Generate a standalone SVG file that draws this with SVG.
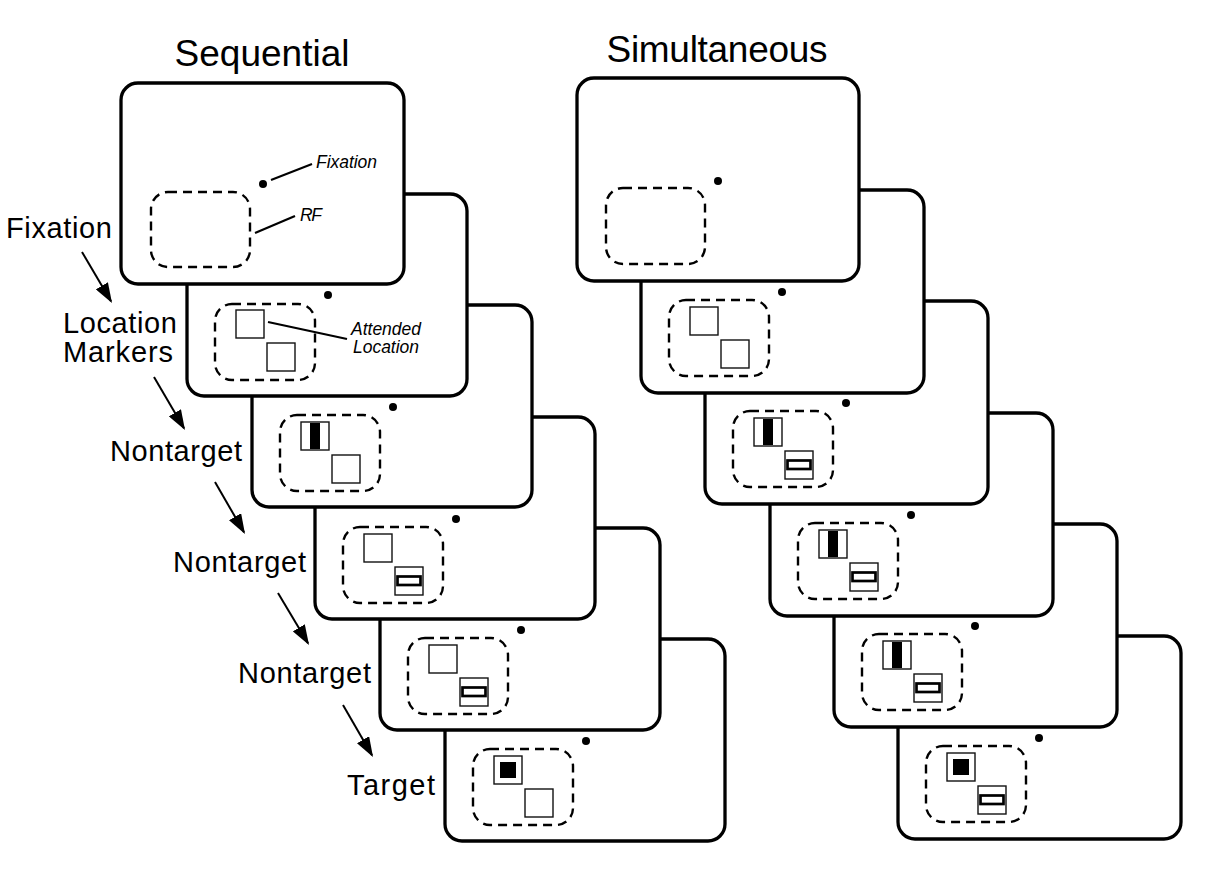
<svg xmlns="http://www.w3.org/2000/svg" width="1210" height="877" viewBox="0 0 1210 877">
<style>
.panel{fill:#fff;stroke:#000;stroke-width:3.3}
.rf{fill:none;stroke:#000;stroke-width:2.4;stroke-dasharray:9 6}
.sq{fill:#fff;stroke:#111;stroke-width:1.4}
.dot{fill:#000}
.vbar{fill:#000}
.hbar{fill:#fff;stroke:#000;stroke-width:2.7}
.tgt{fill:#000}
.lead{stroke:#000;stroke-width:2.2;fill:none}
.arrow{stroke:#000;stroke-width:2;fill:none;marker-end:url(#ah)}
.title{font-family:"Liberation Sans",Arial,sans-serif;font-size:37px;fill:#000}
.lab{font-family:"Liberation Sans",Arial,sans-serif;font-size:29px;fill:#000}
.ann{font-family:"Liberation Sans",Arial,sans-serif;font-size:17.5px;font-style:italic;fill:#000}
</style>
<defs>
<marker id="ah" markerUnits="userSpaceOnUse" viewBox="0 0 20 14" refX="18" refY="7" markerWidth="20" markerHeight="14" orient="auto">
<path d="M0,0 L20,7 L0,14 z" fill="#000"/>
</marker>
</defs>
<rect width="1210" height="877" fill="#fff"/>

<text class="title" x="262" y="66" text-anchor="middle" textLength="175">Sequential</text>
<text class="title" x="717" y="62" text-anchor="middle" textLength="221">Simultaneous</text>

<!-- Sequential panels (drawn back to front) -->
<g id="seq6" transform="translate(445,639)">
<rect class="panel" x="0" y="0" width="280" height="202" rx="17"/>
<circle class="dot" cx="141" cy="102" r="4"/>
<rect class="rf" x="28" y="110" width="100" height="76" rx="17"/>
<rect class="sq" x="49" y="117" width="28" height="28"/>
<rect class="tgt" x="55" y="123" width="16" height="16"/>
<rect class="sq" x="80" y="150" width="28" height="28"/>
</g>
<g id="seq5" transform="translate(380,528)">
<rect class="panel" x="0" y="0" width="280" height="202" rx="17"/>
<circle class="dot" cx="141" cy="102" r="4"/>
<rect class="rf" x="28" y="110" width="100" height="76" rx="17"/>
<rect class="sq" x="49" y="117" width="28" height="28"/>
<rect class="sq" x="80" y="150" width="28" height="28"/>
<rect class="hbar" x="82.5" y="159.5" width="23" height="8.5"/>
</g>
<g id="seq4" transform="translate(315,417)">
<rect class="panel" x="0" y="0" width="280" height="202" rx="17"/>
<circle class="dot" cx="141" cy="102" r="4"/>
<rect class="rf" x="28" y="110" width="100" height="76" rx="17"/>
<rect class="sq" x="49" y="117" width="28" height="28"/>
<rect class="sq" x="80" y="150" width="28" height="28"/>
<rect class="hbar" x="82.5" y="159.5" width="23" height="8.5"/>
</g>
<g id="seq3" transform="translate(252,305)">
<rect class="panel" x="0" y="0" width="280" height="202" rx="17"/>
<circle class="dot" cx="141" cy="102" r="4"/>
<rect class="rf" x="28" y="110" width="100" height="76" rx="17"/>
<rect class="sq" x="49" y="117" width="28" height="28"/>
<rect class="vbar" x="58" y="118" width="10" height="26"/>
<rect class="sq" x="80" y="150" width="28" height="28"/>
</g>
<g id="seq2" transform="translate(187,194)">
<rect class="panel" x="0" y="0" width="280" height="202" rx="17"/>
<circle class="dot" cx="141" cy="101" r="4"/>
<rect class="rf" x="28" y="110" width="100" height="76" rx="17"/>
<rect class="sq" x="49" y="116" width="28" height="28"/>
<rect class="sq" x="80" y="149" width="28" height="28"/>
<line class="lead" x1="81" y1="128" x2="160" y2="145"/>
<text class="ann" x="199" y="141" text-anchor="middle" textLength="70">Attended</text>
<text class="ann" x="199" y="159" text-anchor="middle" textLength="66">Location</text>
</g>
<g id="seq1" transform="translate(121,83)">
<rect class="panel" x="0" y="0" width="283" height="201" rx="17"/>
<circle class="dot" cx="142" cy="101" r="4"/>
<rect class="rf" x="30" y="109" width="99" height="75" rx="17"/>
<line class="lead" x1="150" y1="97" x2="191" y2="81"/>
<text class="ann" x="195" y="85" textLength="61">Fixation</text>
<line class="lead" x1="134" y1="150" x2="174" y2="133"/>
<text class="ann" x="179" y="138" textLength="22">RF</text>
</g>

<!-- Simultaneous panels -->
<g id="sim6" transform="translate(898,636)">
<rect class="panel" x="0" y="0" width="283" height="203" rx="17"/>
<circle class="dot" cx="141" cy="102" r="4"/>
<rect class="rf" x="28" y="110" width="100" height="76" rx="17"/>
<rect class="sq" x="49" y="117" width="28" height="28"/>
<rect class="tgt" x="55" y="123" width="16" height="16"/>
<rect class="sq" x="80" y="150" width="28" height="28"/>
<rect class="hbar" x="82.5" y="159.5" width="23" height="8.5"/>
</g>
<g id="sim5" transform="translate(834,524)">
<rect class="panel" x="0" y="0" width="283" height="203" rx="17"/>
<circle class="dot" cx="141" cy="102" r="4"/>
<rect class="rf" x="28" y="110" width="100" height="76" rx="17"/>
<rect class="sq" x="49" y="117" width="28" height="28"/>
<rect class="vbar" x="58" y="118" width="10" height="26"/>
<rect class="sq" x="80" y="150" width="28" height="28"/>
<rect class="hbar" x="82.5" y="159.5" width="23" height="8.5"/>
</g>
<g id="sim4" transform="translate(770,413)">
<rect class="panel" x="0" y="0" width="283" height="203" rx="17"/>
<circle class="dot" cx="141" cy="102" r="4"/>
<rect class="rf" x="28" y="110" width="100" height="76" rx="17"/>
<rect class="sq" x="49" y="117" width="28" height="28"/>
<rect class="vbar" x="58" y="118" width="10" height="26"/>
<rect class="sq" x="80" y="150" width="28" height="28"/>
<rect class="hbar" x="82.5" y="159.5" width="23" height="8.5"/>
</g>
<g id="sim3" transform="translate(705,301)">
<rect class="panel" x="0" y="0" width="283" height="203" rx="17"/>
<circle class="dot" cx="141" cy="102" r="4"/>
<rect class="rf" x="28" y="110" width="100" height="76" rx="17"/>
<rect class="sq" x="49" y="117" width="28" height="28"/>
<rect class="vbar" x="58" y="118" width="10" height="26"/>
<rect class="sq" x="80" y="150" width="28" height="28"/>
<rect class="hbar" x="82.5" y="159.5" width="23" height="8.5"/>
</g>
<g id="sim2" transform="translate(641,190)">
<rect class="panel" x="0" y="0" width="283" height="203" rx="17"/>
<circle class="dot" cx="141" cy="102" r="4"/>
<rect class="rf" x="28" y="110" width="100" height="76" rx="17"/>
<rect class="sq" x="49" y="117" width="28" height="28"/>
<rect class="sq" x="80" y="150" width="28" height="28"/>
</g>
<g id="sim1" transform="translate(577,78)">
<rect class="panel" x="0" y="0" width="282" height="203" rx="17"/>
<circle class="dot" cx="141" cy="103" r="4"/>
<rect class="rf" x="29" y="110" width="99" height="76" rx="17"/>
</g>

<!-- Stage labels -->
<g id="labels">
<text class="lab" x="6" y="238" textLength="106">Fixation</text>
<text class="lab" x="63" y="333" textLength="114">Location</text>
<text class="lab" x="63" y="362" textLength="110">Markers</text>
<text class="lab" x="110" y="461" textLength="132">Nontarget</text>
<text class="lab" x="173" y="572" textLength="133">Nontarget</text>
<text class="lab" x="238" y="683" textLength="133">Nontarget</text>
<text class="lab" x="347" y="795" textLength="88">Target</text>
</g>

<g id="connectors">
<line class="arrow" x1="82" y1="252" x2="111" y2="301.3"/>
<line class="arrow" x1="154" y1="377" x2="184" y2="428.3"/>
<line class="arrow" x1="215" y1="482" x2="244" y2="532.3"/>
<line class="arrow" x1="278" y1="593" x2="308" y2="643.3"/>
<line class="arrow" x1="343" y1="705" x2="372" y2="755.3"/>
</g>
</svg>
